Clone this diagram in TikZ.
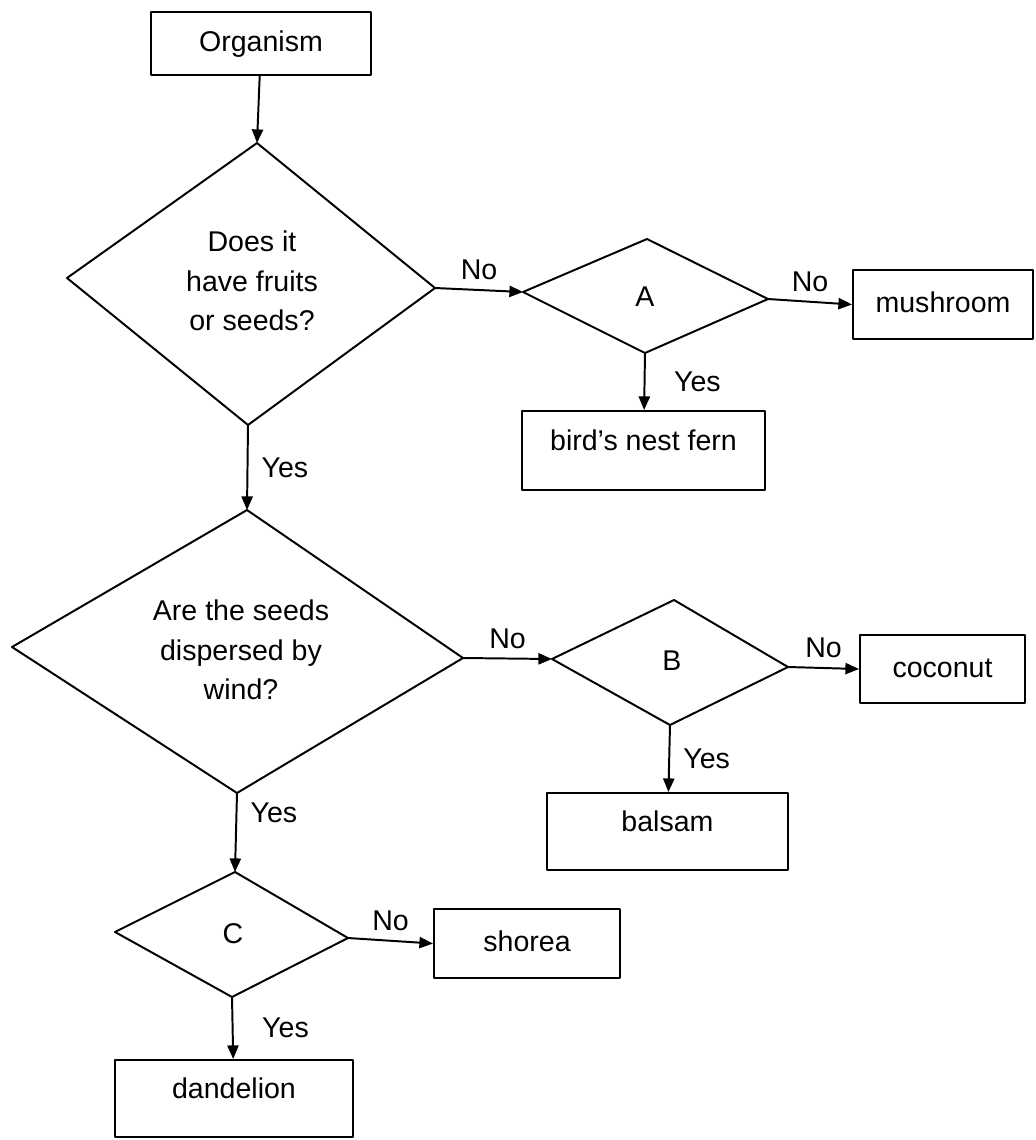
\documentclass[tikz,border=0pt]{standalone}
\usepackage{fontspec}
\setmainfont{Liberation Sans}
\usetikzlibrary{arrows.meta}
\newcommand{\flowfont}{\fontsize{20.3}{28}\selectfont}
\begin{document}
\begin{tikzpicture}[>={Triangle[length=3.4mm,width=2.8mm]},line join=round,line width=1.4pt,font=\flowfont,x=.025cm,y=-.025cm,
	box/.style={draw,inner sep=0pt,text height=.55cm,text depth=.15cm},
	high/.style={text depth=.55cm},
	nolbl/.style={midway,above=3pt},
	yeslbl/.style={midway,right=6pt}]
	\useasboundingbox (0,0) rectangle (1035,1140);
	\path (257,143) coordinate (d1t) (67,278) coordinate (d1l) (435,288) coordinate (d1r) (248,425) coordinate (d1b)
	(647,239) coordinate (At) (523,292) coordinate (Al) (768,299) coordinate (Ar) (645,353) coordinate (Ab)
	(247,510) coordinate (d2t) (12,647) coordinate (d2l) (463,658) coordinate (d2r) (237,793) coordinate (d2b)
	(674,600) coordinate (Bt) (552,659) coordinate (Bl) (788,667) coordinate (Br) (670,725) coordinate (Bb)
	(235,872) coordinate (Ct) (115,932) coordinate (Cl) (348,938) coordinate (Cr) (232,997) coordinate (Cb);
	\foreach \d in {d1,A,d2,B,C} \draw (\d t)--(\d r)--(\d b)--(\d l)--cycle;
	\node[align=center] (q1) at (252,281) {Does it\\have fruits\\or seeds?};
	\node (qa) at (645,297) {A};
	\node[align=center] (q2) at (241,650) {Are the seeds\\dispersed by\\wind?};
	\node (qb) at (672,661) {B};
	\node (qc) at (233,934) {C};
	\node[box,minimum width=5.5cm,minimum height=1.575cm] (org) at (261,43.5) {Organism};
	\node[box,minimum width=4.5cm,minimum height=1.725cm] (mush) at (943,304.5) {mushroom};
	\node[box,high,minimum width=6.075cm,minimum height=1.975cm] (fern) at (643.5,450.5) {bird's nest fern};
	\node[box,minimum width=4.125cm,minimum height=1.7cm] (coco) at (942.5,669) {coconut};
	\node[box,high,minimum width=6.025cm,minimum height=1.925cm] (balsam) at (667.5,831.5) {balsam};
	\node[box,minimum width=4.65cm,minimum height=1.725cm] (shorea) at (527,943.5) {shorea};
	\node[box,high,minimum width=5.95cm,minimum height=1.925cm] (dand) at (234,1098.5) {dandelion};
	\draw[->] (org)--(d1t);
	\draw[->] (d1r)--(Al) node[nolbl] (no1) {No};
	\draw[->] (Ar)--(mush.west) node[nolbl] (no2) {No};
	\draw[->] (Ab)--(fern) node[yeslbl,right=11pt] (yes1) {Yes};
	\draw[->] (d1b)--(d2t) node[yeslbl] (yes2) {Yes};
	\draw[->] (d2r)--(Bl) node[nolbl] (no3) {No};
	\draw[->] (Br)--(coco.west) node[nolbl] (no4) {No};
	\draw[->] (Bb)--(balsam) node[yeslbl] (yes3) {Yes};
	\draw[->] (d2b)--(Ct) node[yeslbl,pos=.25] (yes4) {Yes};
	\draw[->] (Cr)--(shorea.west) node[nolbl] (no5) {No};
	\draw[->] (Cb)--(dand) node[yeslbl,right=11pt] (yes5) {Yes};
\end{tikzpicture}
\end{document}
